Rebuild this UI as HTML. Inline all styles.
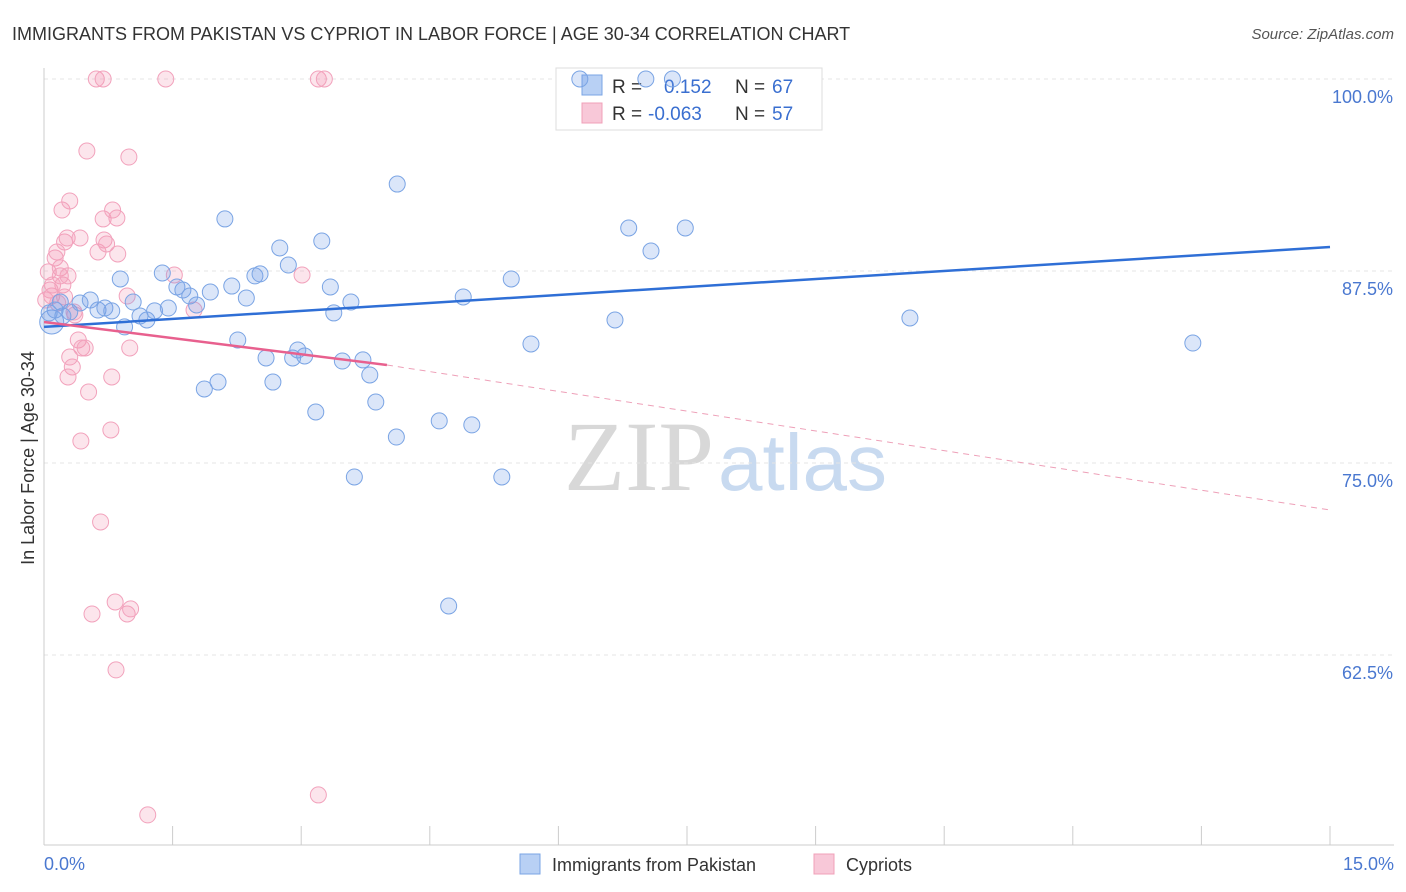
<!DOCTYPE html>
<html><head><meta charset="utf-8"><style>
body{margin:0;background:#fff;font-family:"Liberation Sans",sans-serif;}
svg{display:block}
</style></head><body>
<svg id="chart" width="1406" height="892">
<text x="12" y="40" font-size="18" fill="#333">IMMIGRANTS FROM PAKISTAN VS CYPRIOT IN LABOR FORCE | AGE 30-34 CORRELATION CHART</text>
<text x="1394" y="39" font-size="15" fill="#555" text-anchor="end" font-style="italic">Source: ZipAtlas.com</text>
<g><text x="714" y="490" font-size="100" fill="#d8d8d8" text-anchor="end" font-family="Liberation Serif,serif">ZIP</text><text x="718" y="490" font-size="80" fill="#c8daf0">atlas</text></g>
<g id="grid"></g><g id="axes"></g>
<text transform="translate(34,458) rotate(-90)" font-size="18" fill="#333" text-anchor="middle">In Labor Force | Age 30-34</text>
<text x="44" y="870" font-size="18" fill="#4a78d0">0.0%</text>
<text x="1394" y="870" font-size="18" fill="#4a78d0" text-anchor="end">15.0%</text>
<g>
<rect x="556" y="68" width="266" height="62" fill="#fff" stroke="#ddd"/>
<rect x="582" y="75" width="20" height="20" fill="#b8d0f4" stroke="#7aa4e4"/>
<rect x="582" y="103" width="20" height="20" fill="#f8c8d8" stroke="#f0a0b8"/>
<text x="612" y="93" font-size="19" fill="#333">R = </text><text x="664" y="93" font-size="19" fill="#3a6fd0">0.152</text>
<text x="735" y="93" font-size="19" fill="#333">N = </text><text x="772" y="93" font-size="19" fill="#3a6fd0">67</text>
<text x="612" y="120" font-size="19" fill="#333">R = </text><text x="648" y="120" font-size="19" fill="#3a6fd0">-0.063</text>
<text x="735" y="120" font-size="19" fill="#333">N = </text><text x="772" y="120" font-size="19" fill="#3a6fd0">57</text>
</g>
<g id="marks"></g>
<g>
<rect x="520" y="854" width="20" height="20" fill="#b8d0f4" stroke="#7aa4e4"/>
<text x="552" y="871" font-size="18" fill="#333">Immigrants from Pakistan</text>
<rect x="814" y="854" width="20" height="20" fill="#f8c8d8" stroke="#f0a0b8"/>
<text x="846" y="871" font-size="18" fill="#333">Cypriots</text>
</g>
</svg>
<script>
const yTicks=[100,87.5,75,62.5];
const yTickLabels=["100.0%","87.5%","75.0%","62.5%"];
const xTicks=[0,1.5,3,4.5,6,7.5,9,10.5,12,13.5,15];
const blueX=[0.09,0.13,0.19,0.30,0.42,0.54,0.63,0.71,0.79,0.89,0.94,1.04,1.20,1.12,1.29,1.38,1.45,1.55,1.62,1.70,1.78,1.94,2.11,2.19,2.26,2.36,2.46,2.52,2.59,2.67,2.75,2.85,2.90,2.96,3.04,3.17,3.24,3.34,3.38,3.48,3.58,3.62,3.72,3.80,3.87,4.11,4.12,4.61,4.72,4.89,4.99,5.34,5.45,5.68,6.66,6.82,7.08,7.48,10.10,13.40,1.87,2.03,6.25,7.02,7.33,0.06,0.22];
const blueY=[84.18,84.96,85.48,84.83,85.42,85.61,84.96,85.09,84.90,86.98,83.86,85.48,84.31,84.57,84.90,87.37,85.09,86.46,86.26,85.87,85.29,86.13,90.89,86.52,83.01,85.74,87.18,87.31,81.84,80.27,89.00,87.89,81.84,82.36,81.97,78.32,89.45,86.46,84.77,81.64,85.48,74.09,81.71,80.73,78.97,76.69,93.16,77.74,65.69,85.81,77.48,74.09,86.98,82.75,84.31,90.30,88.80,90.30,84.44,82.81,79.82,80.27,100,100,100,84.77,84.57];
const pinkX=[0.05,0.07,0.09,0.13,0.15,0.19,0.22,0.24,0.19,0.21,0.24,0.27,0.28,0.30,0.30,0.33,0.36,0.40,0.42,0.44,0.48,0.50,0.52,0.28,0.43,0.61,0.69,0.63,0.69,0.70,0.73,0.79,0.78,0.80,0.85,0.86,0.97,0.99,1.00,1.42,1.52,1.75,3.01,3.20,3.27,0.66,0.56,0.83,0.97,1.01,0.84,1.21,3.20,0.02,0.10,0.16,0.35];
const pinkY=[87.44,86.26,85.87,88.35,88.74,87.70,86.59,85.81,87.18,91.47,89.39,89.65,87.18,92.06,81.90,81.25,84.64,83.01,89.65,82.49,82.49,95.31,79.62,80.60,76.43,100,100,88.74,90.89,89.52,89.26,80.60,77.15,91.47,90.95,88.61,85.87,94.92,82.49,100,87.24,84.96,87.24,100,100,71.16,65.17,65.95,65.17,65.50,61.53,52.09,53.39,85.61,86.59,85.42,84.83];
const blueTrendX=[0,15], blueTrendY=[83.86,89.06];
const pinkTrendX=[0,4.0,15], pinkTrendY=[84.18,81.38,71.94];
const NS="http://www.w3.org/2000/svg";
const xs=v=>44+v/15*1286, ys=v=>79+(100-v)/12.5*192;
function mk(tag,attrs,parent){const e=document.createElementNS(NS,tag);for(const k in attrs)e.setAttribute(k,attrs[k]);document.getElementById(parent).appendChild(e);return e;}
yTicks.forEach((t,i)=>{
 let l=mk('line',{x1:44,x2:1394,y1:ys(t),y2:ys(t),stroke:'#e4e4e4','stroke-dasharray':'4,4'},'grid');
 
 
 let tx=mk('text',{x:1393,y:ys(t)+24,'font-size':18,fill:'#4a78d0','text-anchor':'end'},'axes');
 tx.textContent=yTickLabels[i];
 
 
});
let ax=mk('line',{x1:44,x2:1394,y1:845,y2:845,stroke:'#ccc'},'axes');


let ay=mk('line',{x1:44,x2:44,y1:68,y2:845,stroke:'#ccc'},'axes');


xTicks.forEach(t=>{
 let l=mk('line',{x1:xs(t),x2:xs(t),y1:826,y2:845,stroke:'#ccc'},'axes');
 
 
});
pinkX.forEach((x,i)=>{
 let c=mk('circle',{cx:xs(x),cy:ys(pinkY[i]),r:8,fill:'rgba(242,150,180,0.25)',stroke:'#f2a2bc','stroke-width':1},'marks');
 
 
});
blueX.forEach((x,i)=>{
 let c=mk('circle',{cx:xs(x),cy:ys(blueY[i]),r:(i==0?12:8),fill:'rgba(110,155,230,0.25)',stroke:'#7aa4e4','stroke-width':1},'marks');
 
 
});
let bt=mk('line',{x1:xs(blueTrendX[0]),y1:ys(blueTrendY[0]),x2:xs(blueTrendX[1]),y2:ys(blueTrendY[1]),stroke:'#2f6fd6','stroke-width':2.5},'marks');


let pt=mk('line',{x1:xs(pinkTrendX[0]),y1:ys(pinkTrendY[0]),x2:xs(pinkTrendX[1]),y2:ys(pinkTrendY[1]),stroke:'#e8608e','stroke-width':2.5},'marks');


let pd=mk('line',{x1:xs(pinkTrendX[1]),y1:ys(pinkTrendY[1]),x2:xs(pinkTrendX[2]),y2:ys(pinkTrendY[2]),stroke:'#eea0b8','stroke-width':1,'stroke-dasharray':'6,5'},'marks');


</script>
</body></html>
